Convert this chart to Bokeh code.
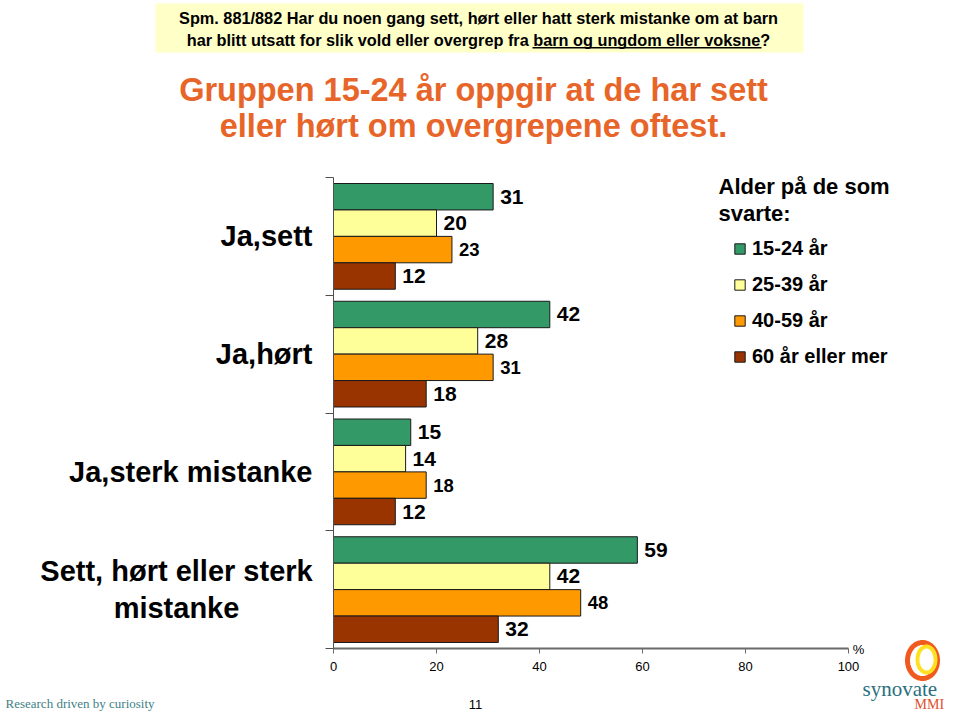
import numpy as np
from bokeh.plotting import figure
from bokeh.models import (Range1d, FixedTicker, Label, BoxAnnotation, Legend,
                          LegendItem, PolyAnnotation, ColumnDataSource)
from bokeh.core.properties import value
from bokeh.embed import file_html
from bokeh.resources import INLINE

# ---------------- data ----------------
categories = ["Ja,sett", "Ja,hørt", "Ja,sterk mistanke", "Sett, hørt eller sterk\nmistanke"]
age_groups = ["15-24 år", "25-39 år", "40-59 år", "60 år eller mer"]
vals_15_24 = [31, 42, 15, 59]
vals_25_39 = [20, 28, 14, 42]
vals_40_59 = [23, 31, 18, 48]
vals_60_plus = [12, 18, 12, 32]
x_ticks = [0, 20, 40, 60, 80, 100]

series = [vals_15_24, vals_25_39, vals_40_59, vals_60_plus]
colors = ["#339966", "#FFFF99", "#FF9900", "#993300"]
label_sizes = ["21px", "21px", "18.5px", "21px"]

# ---------------- geometry (canvas pixels) ----------------
W, H = 944, 712
X0, X100 = 333, 848          # pixel positions of 0 % and 100 %
YT, YB = 177, 648            # top / bottom of the category band
n = len(categories)
xs = (X100 - X0) / 100.0
ys_ = (YB - YT) / n

p = figure(width=W, height=H, output_backend="svg", toolbar_location=None,
           x_range=Range1d(-X0 / xs, (W - X0) / xs),
           y_range=Range1d(n + (H - YB) / ys_, -YT / ys_),
           min_border_left=0, min_border_right=0, min_border_top=0, min_border_bottom=0)
p.outline_line_color = None
p.xgrid.visible = False
p.ygrid.visible = False
p.background_fill_color = "white"
p.border_fill_color = "white"

gap = 0.051
bh = (1 - 2 * gap) / len(series)
renderers = []
for k, (vals, col) in enumerate(zip(series, colors)):
    ys = [i + gap + bh * (k + 0.5) for i in range(n)]
    src = ColumnDataSource(dict(y=ys, right=vals, lab=[str(v) for v in vals]))
    r = p.hbar(y="y", left=0, right="right", height=bh, source=src,
               fill_color=col, line_color="#1a1a1a", line_width=1)
    renderers.append(r)
    p.text(x="right", y="y", text="lab", source=src, x_offset=7,
           text_baseline="middle", text_align="left",
           text_font=value("Liberation Sans"), text_font_style="bold",
           text_font_size=label_sizes[k], text_color="black")

# x axis (drawn at the bottom of the category band)
xa = p.xaxis[0]
xa.fixed_location = n
xa.bounds = (0, 100)
xa.ticker = FixedTicker(ticks=x_ticks)
xa.minor_tick_line_color = None
xa.major_tick_in = 0
xa.major_tick_out = 5
xa.axis_line_color = "#6a6a6a"
xa.axis_line_width = 2
xa.major_tick_line_color = "#6a6a6a"
xa.major_tick_line_width = 1
xa.major_label_standoff = 8
xa.major_label_text_font = "Liberation Sans"
xa.major_label_text_font_size = "13px"
xa.major_label_text_color = "black"

# y axis (ticks at the category boundaries)
ya = p.yaxis[0]
ya.fixed_location = 0
ya.bounds = (0, n)
ya.ticker = FixedTicker(ticks=[], minor_ticks=list(range(n + 1)))
ya.major_tick_line_color = None
ya.minor_tick_in = 0
ya.minor_tick_out = 8
ya.minor_tick_line_color = "#505050"
ya.axis_line_color = "#505050"


def S(x, y):
    return x, H - y


def lab(text, x, y, size, color="black", font="Liberation Sans", style="bold",
        align="left", baseline="middle"):
    sx, sy = S(x, y)
    p.add_layout(Label(x=sx, y=sy, x_units="screen", y_units="screen", text=text,
                       text_font=font, text_font_size=f"{size}px",
                       text_font_style=style, text_color=color,
                       text_align=align, text_baseline=baseline))


# category labels, placed on the category centres
for i, c in enumerate(categories):
    multi = "\n" in c
    p.add_layout(Label(x=176 if multi else 312, y=i + 0.5, x_units="screen", y_units="data",
                       text=c, text_font="Liberation Sans", text_font_style="bold",
                       text_font_size="29px", text_color="black",
                       text_align="center" if multi else "right", text_baseline="middle",
                       text_line_height=1.17))

# header box
hl, ht = S(155, 3)
hr, hb = S(803, 52)
p.add_layout(BoxAnnotation(left=hl, right=hr, top=ht, bottom=hb,
                           left_units="screen", right_units="screen",
                           top_units="screen", bottom_units="screen",
                           fill_color="#FFFFC8", fill_alpha=1, line_color=None))
lab("Spm. 881/882 Har du noen gang sett, hørt eller hatt sterk mistanke om at barn",
    478, 17, 16.3, align="center")
lab("har blitt utsatt for slik vold eller overgrep fra barn og ungdom eller voksne?",
    478, 39, 16.3, align="center")
ul, ut = S(532, 46.5)
ur, ub = S(761, 48)
p.add_layout(BoxAnnotation(left=ul, right=ur, top=ut, bottom=ub,
                           left_units="screen", right_units="screen",
                           top_units="screen", bottom_units="screen",
                           fill_color="black", fill_alpha=1, line_color=None))

# title
lab("Gruppen 15-24 år oppgir at de har sett", 473, 89, 32.5, color="#E8652A", align="center")
lab("eller hørt om overgrepene oftest.", 473, 125, 32.5, color="#E8652A", align="center")

# legend title
lab("Alder på de som", 718, 186, 22)
lab("svarte:", 718, 213, 22)

legend = Legend(items=[LegendItem(label=a, renderers=[r]) for a, r in zip(age_groups, renderers)],
                location=S(733, 367.5), orientation="vertical",
                glyph_width=13, glyph_height=13, label_height=23, spacing=13,
                label_standoff=6, padding=0, margin=0,
                border_line_color=None, background_fill_alpha=0,
                label_text_font="Liberation Sans", label_text_font_style="bold",
                label_text_font_size="20px", label_text_color="black")
p.add_layout(legend, "center")

# % sign
lab("%", 858, 649, 13, style="normal", align="center")

# footer
lab("Research driven by curiosity", 5, 703, 13, color="#3E7F86", font="Liberation Serif",
    style="normal")
lab("11", 475, 704, 13, style="normal", align="center")

t = np.linspace(0, 2 * np.pi, 72)
ox, oy = S(922, 660)
p.add_layout(PolyAnnotation(xs=list(ox + 15 * np.cos(t)), ys=list(oy + 18 * np.sin(t)),
                            xs_units="screen", ys_units="screen",
                            fill_alpha=0, line_color="#F05A1E", line_alpha=1, line_width=5))
ix, iy = S(926, 659)
p.add_layout(PolyAnnotation(xs=list(ix + 9 * np.cos(t)), ys=list(iy + 13 * np.sin(t)),
                            xs_units="screen", ys_units="screen",
                            fill_alpha=0, line_color="#FFE020", line_alpha=1, line_width=4))
lab("synovate", 862, 688, 21, color="#2B6F7E", font="Liberation Serif", style="normal")
lab("MMI", 914, 704, 14, color="#E0502A", font="Liberation Serif", style="normal")

open("out.html", "w").write(file_html(p, INLINE))
